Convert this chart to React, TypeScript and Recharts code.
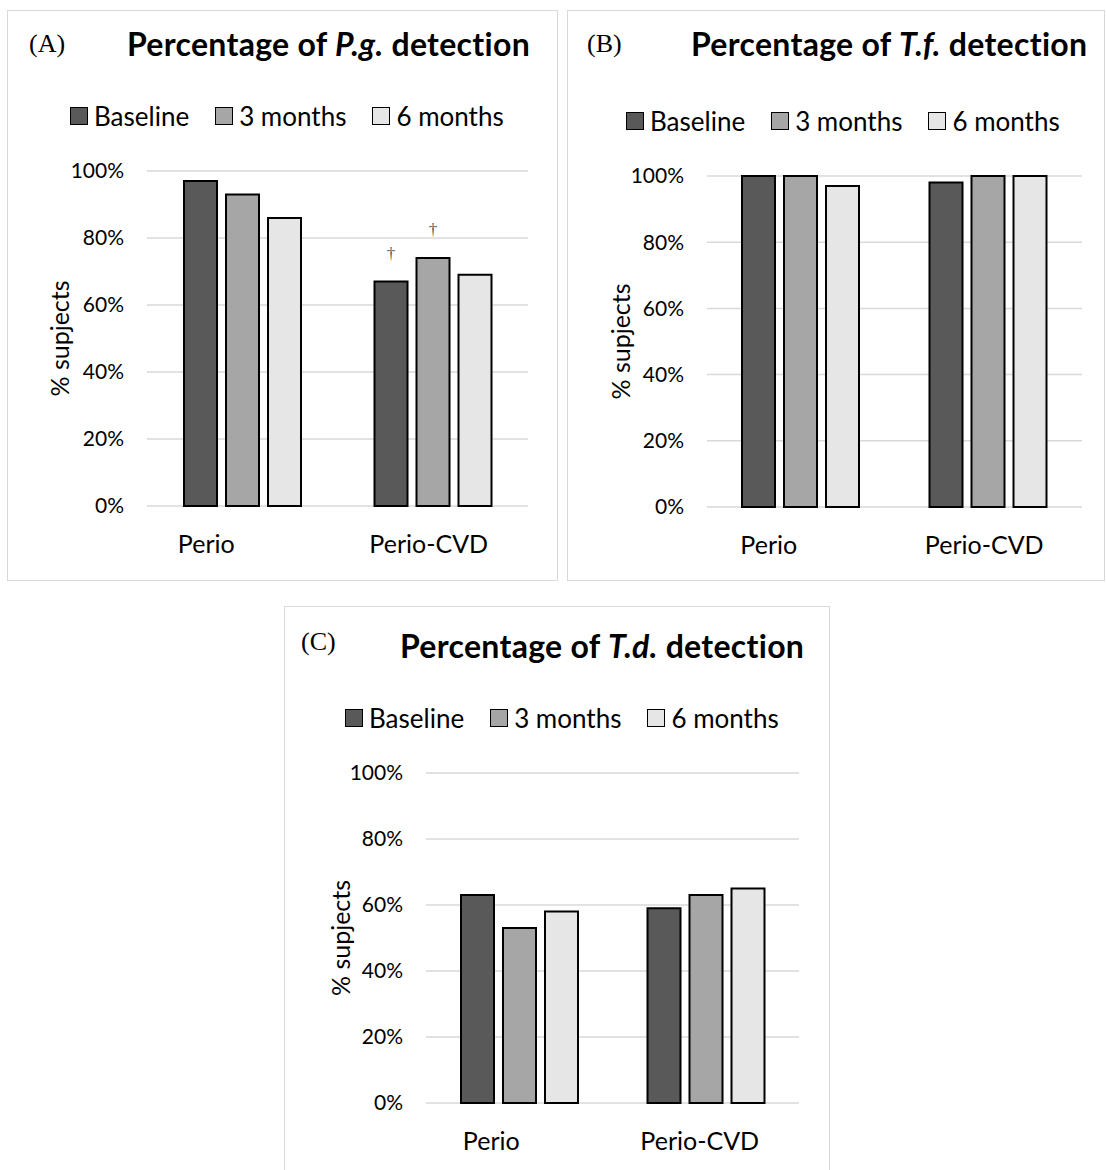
import { BarChart, Bar, XAxis, YAxis, CartesianGrid, Legend, LabelList } from 'recharts';

const categories = ['Perio', 'Perio-CVD'];
const seriesNames = ['Baseline', '3 months', '6 months'];
const seriesColors = ['#595959', '#a6a6a6', '#e7e6e6'];
const yTicks = [0, 20, 40, 60, 80, 100];

// P.g. (panel A)
const pgBaseline = [97, 67];
const pg3Months = [93, 74];
const pg6Months = [86, 69];
const pgBaselineMarks = ['', '†'];
const pg3MonthsMarks = ['', '†'];

// T.f. (panel B)
const tfBaseline = [100, 98];
const tf3Months = [100, 100];
const tf6Months = [97, 100];

// T.d. (panel C)
const tdBaseline = [63, 59];
const td3Months = [53, 63];
const td6Months = [58, 65];

const FONT = 'Lato, "Open Sans", sans-serif';
const SERIF = '"Liberation Serif", "DejaVu Serif", serif';

function buildRows(b: number[], m3: number[], m6: number[], bMarks?: string[], m3Marks?: string[]) {
  return categories.map((c, i) => ({
    category: c,
    baseline: b[i],
    m3: m3[i],
    m6: m6[i],
    bMark: bMarks ? bMarks[i] : '',
    m3Mark: m3Marks ? m3Marks[i] : '',
  }));
}

const CategoryTick = (props: any) => {
  const { x, y, payload, index, shifts, base } = props;
  return (
    <text x={x + (shifts[index] || 0)} y={y + base} textAnchor="middle" fontSize={25} fontFamily={FONT} fill="#000">
      {payload.value}
    </text>
  );
};

const Dagger = (props: any) => {
  const { x, y, width, value } = props;
  if (!value) return null;
  return (
    <text x={x + width / 2} y={y - 23} textAnchor="middle" fontSize={17} fontFamily={SERIF} fill="#555555">
      {value}
    </text>
  );
};

// keep the legend in series order (Baseline, 3 months, 6 months)
const LegendRow = ({ payload }: any) => {
  const items = [...(payload || [])].sort((a: any, b: any) => seriesNames.indexOf(a.value) - seriesNames.indexOf(b.value));
  return (
    <div style={{ display: 'flex', alignItems: 'center', height: 30, fontFamily: FONT, fontSize: 26, color: '#000', whiteSpace: 'nowrap' }}>
      {items.map((p: any, i: number) => (
        <div key={p.value} style={{ display: 'flex', alignItems: 'center', marginLeft: i === 0 ? 0 : 26 }}>
          <span style={{ display: 'inline-block', width: 16, height: 16, background: p.color, border: '1.5px solid #000', marginRight: 6 }} />
          <span>{p.value}</span>
        </div>
      ))}
    </div>
  );
};

interface PanelProps {
  letter: string;
  organism: string;
  rows: ReturnType<typeof buildRows>;
  box: { left: number; top: number; width: number; height: number };
  plot: { left: number; top: number; right: number; bottom: number };
  letterPos: { x: number; y: number };
  titlePos: { x: number; y: number };
  legendPos: { x: number; y: number };
  yLabelX: number;
  shifts: number[];
  catBase: number;
}

function Panel({ letter, organism, rows, box, plot, letterPos, titlePos, legendPos, yLabelX, shifts, catBase }: PanelProps) {
  const w = box.width - 2;
  const h = box.height - 2;
  const xAxisH = 60;
  return (
    <div
      style={{
        position: 'absolute',
        left: box.left,
        top: box.top,
        width: box.width,
        height: box.height,
        boxSizing: 'border-box',
        border: '1px solid #d9d9d9',
        background: '#fff',
      }}
    >
      <div style={{ position: 'absolute', left: letterPos.x, top: letterPos.y, fontFamily: SERIF, fontSize: 26, lineHeight: '26px', zIndex: 2 }}>
        ({letter})
      </div>
      <div
        style={{
          position: 'absolute',
          left: titlePos.x,
          top: titlePos.y,
          fontFamily: FONT,
          fontWeight: 700,
          fontSize: 32,
          letterSpacing: 0.3,
          lineHeight: '38px',
          whiteSpace: 'nowrap',
          zIndex: 2,
        }}
      >
        Percentage of <i>{organism}</i> detection
      </div>
      <BarChart
        width={w}
        height={h}
        data={rows}
        margin={{ top: plot.top, right: w - plot.right, bottom: h - plot.bottom - xAxisH, left: 0 }}
        barGap={9}
        barSize={33}
      >
        <CartesianGrid vertical={false} stroke="#d9d9d9" strokeWidth={1.5} />
        <XAxis
          dataKey="category"
          height={xAxisH}
          axisLine={false}
          tickLine={false}
          tickSize={0}
          tickMargin={0}
          interval={0}
          tick={<CategoryTick shifts={shifts} base={catBase} />}
        />
        <YAxis
          width={plot.left}
          domain={[0, 100]}
          ticks={yTicks}
          interval={0}
          tickFormatter={(v: number) => `${v}%`}
          axisLine={false}
          tickLine={false}
          tickSize={0}
          tickMargin={23}
          tick={{ fontSize: 21, fill: '#000', fontFamily: FONT }}
          label={(p: any) => {
            const vb = p.viewBox;
            const cy = vb.y + vb.height / 2;
            return (
              <text
                x={yLabelX}
                y={cy}
                transform={`rotate(-90 ${yLabelX} ${cy})`}
                textAnchor="middle"
                dominantBaseline="central"
                fontSize={25}
                fontFamily={FONT}
                fill="#000"
              >
                % supjects
              </text>
            );
          }}
        />
        <Legend
          layout="horizontal"
          verticalAlign="middle"
          align="center"
          wrapperStyle={{ left: legendPos.x, top: legendPos.y, width: 'auto', height: 30 }}
          content={(p: any) => <LegendRow payload={p.payload} />}
        />
        <Bar dataKey="baseline" name={seriesNames[0]} fill={seriesColors[0]} stroke="#000" strokeWidth={2} legendType="square" isAnimationActive={false}>
          <LabelList dataKey="bMark" content={<Dagger />} />
        </Bar>
        <Bar dataKey="m3" name={seriesNames[1]} fill={seriesColors[1]} stroke="#000" strokeWidth={2} legendType="square" isAnimationActive={false}>
          <LabelList dataKey="m3Mark" content={<Dagger />} />
        </Bar>
        <Bar dataKey="m6" name={seriesNames[2]} fill={seriesColors[2]} stroke="#000" strokeWidth={2} legendType="square" isAnimationActive={false} />
      </BarChart>
    </div>
  );
}

export default function App() {
  const pgRows = buildRows(pgBaseline, pg3Months, pg6Months, pgBaselineMarks, pg3MonthsMarks);
  const tfRows = buildRows(tfBaseline, tf3Months, tf6Months);
  const tdRows = buildRows(tdBaseline, td3Months, td6Months);

  return (
    <div style={{ position: 'absolute', left: 0, top: 0, width: 1106, height: 1170, overflow: 'hidden', background: '#fff' }}>
      <Panel
        letter="A"
        organism="P.g."
        rows={pgRows}
        box={{ left: 7, top: 10, width: 551, height: 571 }}
        plot={{ left: 139, top: 160, right: 520, bottom: 495 }}
        letterPos={{ x: 21, y: 20 }}
        titlePos={{ x: 119, y: 14 }}
        legendPos={{ x: 62, y: 90 }}
        yLabelX={51}
        shifts={[-36, -4]}
        catBase={47}
      />
      <Panel
        letter="B"
        organism="T.f."
        rows={tfRows}
        box={{ left: 567, top: 10, width: 538, height: 571 }}
        plot={{ left: 139, top: 165, right: 514, bottom: 496 }}
        letterPos={{ x: 19, y: 20 }}
        titlePos={{ x: 123, y: 14 }}
        legendPos={{ x: 58, y: 95 }}
        yLabelX={52}
        shifts={[-32, -4]}
        catBase={47}
      />
      <Panel
        letter="C"
        organism="T.d."
        rows={tdRows}
        box={{ left: 284, top: 606, width: 546, height: 580 }}
        plot={{ left: 141, top: 166, right: 514, bottom: 496 }}
        letterPos={{ x: 16, y: 22 }}
        titlePos={{ x: 115, y: 20 }}
        legendPos={{ x: 60, y: 96 }}
        yLabelX={55}
        shifts={[-28, -6]}
        catBase={47}
      />
    </div>
  );
}
